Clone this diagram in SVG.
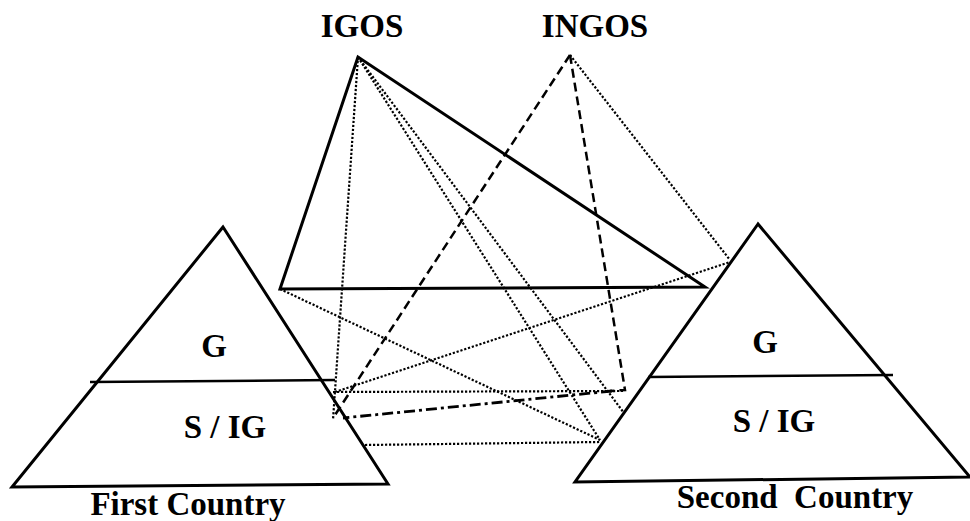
<svg xmlns="http://www.w3.org/2000/svg" width="970" height="521" viewBox="0 0 970 521">
<style>
text{font-family:"Liberation Serif","Times New Roman",serif;font-weight:bold;font-size:33px;fill:#000;text-anchor:middle;white-space:pre}
.tri{fill:none;stroke:#000;stroke-width:3;stroke-linejoin:miter}
.div{stroke:#000;stroke-width:2.5}
.solid{stroke:#000;stroke-width:3;fill:none}
.dot{stroke:#000;stroke-width:2.2;stroke-dasharray:2.2 1.8;fill:none}
.dash{stroke:#000;stroke-width:2.5;stroke-dasharray:9 5;fill:none}
.dashdot{stroke:#000;stroke-width:2.8;stroke-dasharray:11 4 3 4;fill:none}
</style>
<rect width="970" height="521" fill="#fff"/>
<g id="connectors">
<path class="solid" d="M358 57 L280 289 L705 287 Z"/>
<line class="dot" x1="358" y1="57" x2="333" y2="420"/>
<line class="dot" x1="358" y1="57" x2="600" y2="440"/>
<line class="dot" x1="358" y1="57" x2="624" y2="413"/>
<line class="dot" x1="570" y1="55" x2="730" y2="260"/>
<line class="dot" x1="280" y1="289" x2="600" y2="440"/>
<line class="dot" x1="335" y1="392" x2="730" y2="262"/>
<line class="dot" x1="333" y1="392" x2="623" y2="391"/>
<line class="dot" x1="365" y1="445" x2="600" y2="442"/>
<line class="dash" x1="570" y1="55" x2="335" y2="415"/>
<polyline class="dash" points="570,55 625,390 610,391"/>
<line class="dashdot" x1="612" y1="391" x2="343" y2="418"/>
</g>
<g id="igos"><text x="362" y="37">IGOS</text></g>
<g id="ingos"><text x="595" y="37">INGOS</text></g>
<g id="first-country">
<path class="tri" d="M223 227 L12 487 L388 484 Z"/>
<line class="div" x1="90" y1="382" x2="335" y2="380"/>
<text x="214" y="357">G</text>
<text x="225" y="438">S / IG</text>
<text x="188" y="515">First Country</text>
</g>
<g id="second-country">
<path class="tri" d="M758 224 L575 482 L970 477 Z"/>
<line class="div" x1="648" y1="377" x2="893" y2="375"/>
<text x="765" y="353">G</text>
<text x="774" y="432">S / IG</text>
<text x="795" y="508">Second  Country</text>
</g>
</svg>
